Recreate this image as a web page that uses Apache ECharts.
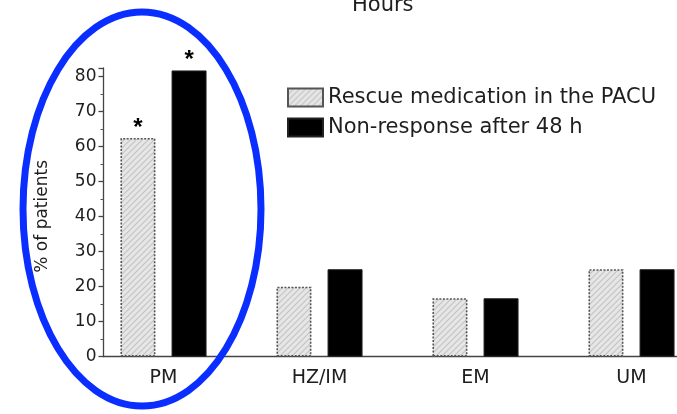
<!DOCTYPE html>
<html><head><meta charset="utf-8">
<script src="https://cdn.jsdelivr.net/npm/echarts@6/dist/echarts.min.js"></script>
<style>html,body{margin:0;padding:0;background:#fff;overflow:hidden;width:677px;height:414px}#c{width:720px;height:414px}</style>
</head><body><div id="c"></div>
<script>
const categories = ['PM', 'HZ/IM', 'EM', 'UM'];
const rescuePACU = [62.5, 20, 16.7, 25];
const nonResponse48h = [81.8, 25, 16.7, 25];
const significant = [true, false, false, false];
const yTicks = [0, 10, 20, 30, 40, 50, 60, 70, 80];
const seriesNames = ['Rescue medication in the PACU', 'Non-response after 48 h'];

// hatch pattern
const pc = document.createElement('canvas');
pc.width = 6; pc.height = 6;
const px = pc.getContext('2d');
px.fillStyle = '#e6e6e6'; px.fillRect(0, 0, 6, 6);
px.strokeStyle = '#c4c4c4'; px.lineWidth = 1.2;
px.beginPath();
px.moveTo(0, 6); px.lineTo(6, 0);
px.moveTo(-3, 3); px.lineTo(3, -3);
px.moveTo(3, 9); px.lineTo(9, 3);
px.stroke();

const FONT = 'DejaVu Sans';
const TXT = '#1e1e1e';
const chart = echarts.init(document.getElementById('c'), null, {renderer: 'canvas'});

chart.setOption({
  animation: false,
  textStyle: {fontFamily: FONT},
  grid: [
    {left: 85.5, width: 624, top: 68, bottom: 57.3, containLabel: false},
    {left: 103.5, right: 0, top: 68, bottom: 57.3, containLabel: false}
  ],
  xAxis: [
    {gridIndex: 0, type: 'category', data: categories,
     axisLine: {show: false}, axisTick: {show: false},
     axisLabel: {color: TXT, fontSize: 19, fontFamily: FONT, margin: 12}},
    {gridIndex: 1, type: 'value', min: 0, max: 1,
     axisLine: {show: true, lineStyle: {color: '#444', width: 1.3}},
     axisTick: {show: false}, axisLabel: {show: false}, splitLine: {show: false}}
  ],
  yAxis: [
    {gridIndex: 0, type: 'value', min: 0, max: 82.5, show: false},
    {gridIndex: 1, type: 'value', min: 0, max: 82.5, interval: 10,
     name: '% of patients', nameLocation: 'middle', nameGap: 52, nameRotate: 90,
     nameTextStyle: {color: TXT, fontSize: 17, fontFamily: FONT, padding: [0, 8, 0, 0]},
     axisLine: {show: true, lineStyle: {color: '#444', width: 1.3}},
     axisTick: {show: true, length: 5, lineStyle: {color: '#444', width: 1.3}},
     minorTick: {show: true, splitNumber: 2, length: 3, lineStyle: {color: '#555', width: 1}},
     axisLabel: {color: TXT, fontSize: 17, fontFamily: FONT, margin: 7, showMaxLabel: false,
       formatter: v => yTicks.includes(v) ? String(v) : ''},
     splitLine: {show: false}}
  ],
  legend: {
    orient: 'vertical', left: 287, top: 87, padding: 0, itemWidth: 35, itemHeight: 18, itemGap: 9,
    icon: 'rect',
    textStyle: {color: TXT, fontSize: 21, fontFamily: FONT},
    data: seriesNames
  },
  series: [
    {name: seriesNames[0], type: 'bar', xAxisIndex: 0, yAxisIndex: 0,
     barWidth: 35, barGap: '46%',
     itemStyle: {color: {image: pc, repeat: 'repeat'}, borderColor: '#555', borderWidth: 1.6, borderType: [2, 1.5]},
     label: {show: true, position: 'top', distance: -2, color: '#000', fontSize: 24, fontWeight: 'bold', fontFamily: 'Liberation Sans',
       formatter: p => significant[p.dataIndex] ? '*' : ''},
     data: rescuePACU},
    {name: seriesNames[1], type: 'bar', xAxisIndex: 0, yAxisIndex: 0,
     barWidth: 35, barGap: '46%',
     itemStyle: {color: '#000', borderColor: '#222', borderWidth: 1},
     label: {show: true, position: 'top', distance: -2, color: '#000', fontSize: 24, fontWeight: 'bold', fontFamily: 'Liberation Sans',
       formatter: p => significant[p.dataIndex] ? '*' : ''},
     data: nonResponse48h}
  ],
  graphic: [
    {type: 'text', left: 352, top: -5, z: 10,
     style: {text: 'Hours', fontSize: 21, fontFamily: FONT, fill: TXT}},
    {type: 'ellipse', z: 100, silent: true,
     shape: {cx: 142, cy: 209, rx: 119, ry: 197},
     style: {fill: 'none', stroke: '#0a2eff', lineWidth: 7}}
  ]
});
</script></body></html>
